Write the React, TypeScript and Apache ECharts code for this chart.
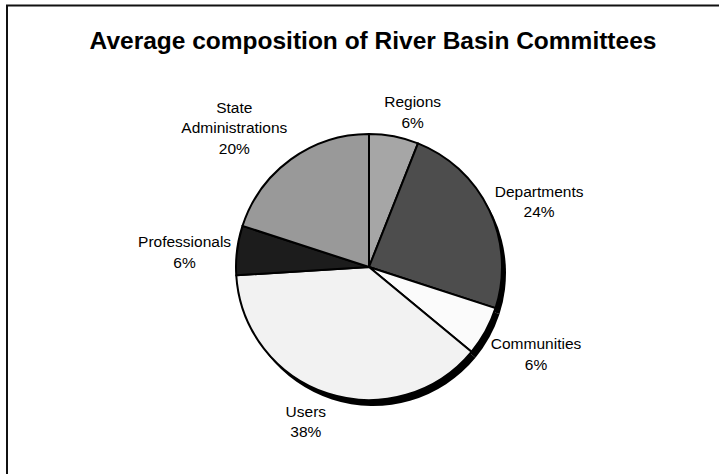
import React, { useEffect, useRef } from "react";
import * as echarts from "echarts";

const TITLE = "Average composition of River Basin Committees";
const categories = ["Regions", "Departments", "Communities", "Users", "Professionals", "State Administrations"];
const values = [6, 24, 6, 38, 6, 20];
const colors = ["#a6a6a6", "#4d4d4d", "#fbfbfb", "#f2f2f2", "#1c1c1c", "#999999"];

const CX = 369;
const CY = 267;
const R = 133;
const GAP = 6;
const FONT = "'Liberation Sans', Arial, sans-serif";

const clamp = (v: number) => Math.max(-1, Math.min(1, v));

export default function App() {
  const ref = useRef<HTMLDivElement>(null);
  useEffect(() => {
    if (!ref.current) return;
    const chart = echarts.init(ref.current, null, { renderer: "svg" });
    const total = values.reduce((a, b) => a + b, 0);
    const mids: number[] = [];
    let acc = 0;
    values.forEach((v) => {
      mids.push(((acc + v / 2) / total) * Math.PI * 2);
      acc += v;
    });
    chart.setOption({
      animation: false,
      backgroundColor: "#ffffff",
      title: {
        text: TITLE,
        left: CX - 1,
        textAlign: "center",
        top: 23,
        textStyle: { fontFamily: FONT, fontSize: 24.5, fontWeight: "bold", color: "#000" },
      },
      graphic: [
        {
          type: "rect",
          shape: { x: 7, y: 5.5, width: 760, height: 520 },
          style: { fill: "none", stroke: "#111", lineWidth: 2 },
          silent: true,
        },
      ],
      series: [
        {
          type: "pie",
          silent: true,
          center: [CX + 4, CY + 6],
          radius: R,
          startAngle: 90,
          clockwise: true,
          z: 1,
          label: { show: false },
          labelLine: { show: false },
          itemStyle: { color: "#000", borderWidth: 0 },
          data: categories.map((c, i) => ({ name: c + " ", value: values[i] })),
        },
        {
          type: "pie",
          center: [CX, CY],
          radius: R,
          startAngle: 90,
          clockwise: true,
          z: 2,
          itemStyle: { borderColor: "#000", borderWidth: 2 },
          labelLine: { show: false, length: 4, length2: 0 },
          label: {
            show: true,
            position: "outside",
            fontFamily: FONT,
            fontSize: 15.5,
            lineHeight: 20.5,
            color: "#000",
            formatter: (p: any) => `${p.name.split(" ").join("\n")}\n${Math.round(p.percent)}%`,
          },
          labelLayout: (params: any) => {
            const th = mids[params.dataIndex];
            const w = params.labelRect.width;
            const h = params.labelRect.height;
            const s = Math.sin(th);
            const c = Math.cos(th);
            const ax = CX + s * (R + GAP);
            const ay = CY - c * (R + GAP);
            const fx = clamp(3.3 * s);
            const fy = clamp(1.4 * c - 0.2);
            return { x: ax + (fx * w) / 2, y: ay - (fy * h) / 2 + 2, align: "center", verticalAlign: "middle" };
          },
          data: categories.map((c, i) => ({ name: c, value: values[i], itemStyle: { color: colors[i] } })),
        },
      ],
    });
    return () => chart.dispose();
  }, []);
  return <div ref={ref} style={{ position: "absolute", left: 0, top: 0, width: 719, height: 474 }} />;
}
